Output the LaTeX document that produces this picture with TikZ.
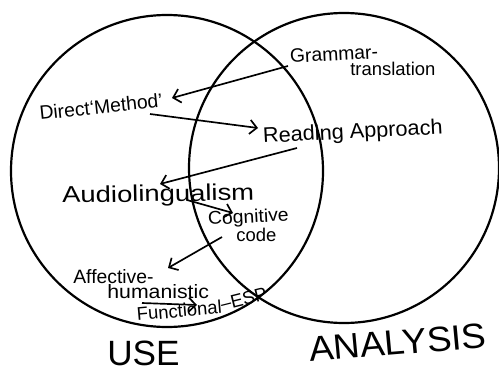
\documentclass[tikz,border=0pt]{standalone}
\usepackage{fontspec}
\setmainfont{Liberation Sans}
\usetikzlibrary{arrows.meta,calc}
\begin{document}
\begin{tikzpicture}[x=0.02cm,y=-0.02cm,
  hw/.style={font=\fontsize{11}{13}\selectfont, inner sep=0pt, anchor=base west},
  big/.style={font=\fontsize{20}{22}\selectfont, inner sep=0pt, anchor=base west, text depth=0pt},
  ring/.style={line width=1.25pt},
  arr/.style={line width=0.95pt, -{Straight Barb[length=4pt,width=8pt]}}]
\useasboundingbox (0,0) rectangle (499,371);
\fill[white] (0,0) rectangle (499,371);
% circles
\draw[ring] (167,171) circle[radius=156];
\draw[ring] (344,168) circle[radius=155];
% labels
\node[hw, rotate=3] (gram) at (290,63) {Grammar-};
\node[hw, font=\fontsize{10.5}{12}\selectfont] (trans) at (350,76) {translation};
\node[hw, rotate=6] (dm) at (40,120) {Direct‘Method’};
\node[hw, font=\fontsize{12}{14}\selectfont, xscale=1.03, rotate=3] (read) at (263,143) {Reading Approach};
\node[hw, font=\fontsize{13}{15}\selectfont, xscale=1.2, rotate=1] (audio) at (62,203) {Audiolingualism};
\node[hw, font=\fontsize{10.5}{12}\selectfont, xscale=1.05, rotate=3] (cog) at (208,225) {Cognitive};
\node[hw, font=\fontsize{10.5}{12}\selectfont] (code) at (236,241) {code};
\node[hw] (aff) at (73,283) {Affective-};
\node[hw, xscale=1.1] (hum) at (107,298) {humanistic};
\node[hw, font=\fontsize{10.5}{12}\selectfont, rotate=5] (func) at (137,321) {Functional};
\node[hw, font=\fontsize{10.5}{12}\selectfont, rotate=14] (esp) at (222,311) {–ESP};
\node[big] (use) at (107,365) {USE};
\node[big, xscale=1.05, rotate=5] (ana) at (310,362) {ANALYSIS};
% arrows
\draw[arr] ($(gram.base west)+(-2,3)$) -- ($(dm.base west)+(132,-22)$);
\draw[arr] ($(dm.base west)+(110,-6)$) -- ($(read.base west)+(-5,-15)$);
\draw[arr] ($(read.base west)+(34,5)$) -- ($(audio.base west)+(98,-19)$);
\draw[arr] ($(audio.base west)+(125,-3)$) -- ($(cog.base west)+(25,-12)$);
\draw[arr] ($(code.base west)+(-14,-4)$) -- ($(aff.base west)+(95,-15)$);
\draw[arr] ($(hum.base west)+(35,5)$) -- ($(hum.base west)+(90,7)$);
\end{tikzpicture}
\end{document}
